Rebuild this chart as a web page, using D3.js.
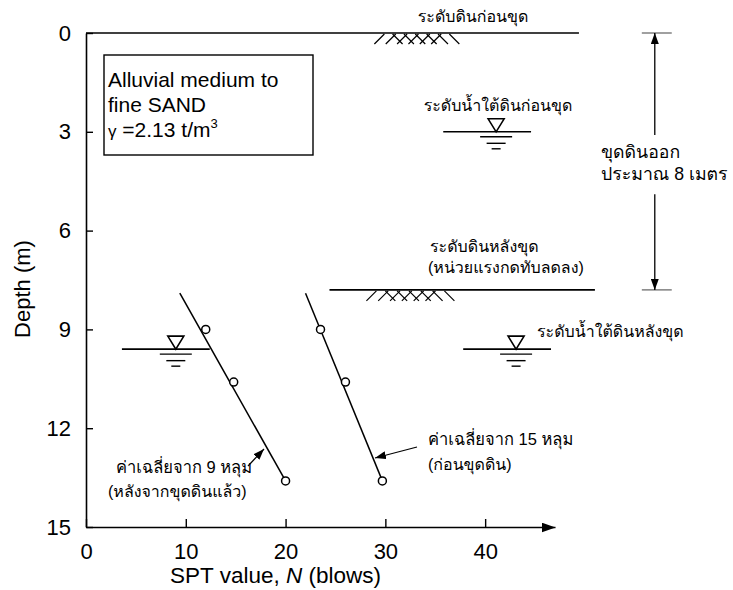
<!DOCTYPE html>
<html>
<head>
<meta charset="utf-8">
<script src="https://cdn.jsdelivr.net/npm/d3@7/dist/d3.min.js"></script>
<style>
  html, body { margin: 0; padding: 0; background: #fff; }
  svg { display: block; }
  text { font-family: "Liberation Sans", Arial, "Loma", "Garuda", "Noto Sans Thai Looped", "Tahoma", "Noto Sans Thai", sans-serif; fill: #000; }
</style>
</head>
<body>
<svg id="chart" width="733" height="590"></svg>
<script>
// SPT N-value against depth, before and after excavation
const xTicks = [0, 10, 20, 30, 40];
const yTicks = [0, 3, 6, 9, 12, 15];

// average of 15 boreholes, before excavation
const beforeDepth = [9.0, 10.6, 13.6];
const beforeN     = [23.5, 26.0, 29.7];
// average of 9 boreholes, after excavation
const afterDepth  = [9.0, 10.6, 13.6];
const afterN      = [12.0, 14.8, 20.0];

// fitted trend lines [N, depth] at start and end
const beforeTrendN = [22.0, 29.7];
const afterTrendN  = [9.4, 20.0];
const trendDepth   = [7.9, 13.6];

// site levels (m)
const groundBefore = 0;
const waterBefore  = 3.0;
const groundAfter  = 7.8;
const waterAfter   = 9.6;

const width = 733, height = 590;
const svg = d3.select("#chart");

const x = d3.scaleLinear().domain([0, 47]).range([86, 555]);
const y = d3.scaleLinear().domain([0, 15]).range([33, 527]);

const defs = svg.append("defs");
defs.append("marker")
  .attr("id", "arrowBig")
  .attr("viewBox", "0 0 10 10")
  .attr("refX", 10).attr("refY", 5)
  .attr("markerWidth", 11).attr("markerHeight", 8)
  .attr("markerUnits", "userSpaceOnUse")
  .attr("orient", "auto")
  .attr("preserveAspectRatio", "none")
  .append("path").attr("d", "M0,0L10,5L0,10Z").attr("fill", "#000");
defs.append("marker")
  .attr("id", "arrowAxis")
  .attr("viewBox", "0 0 14 10")
  .attr("refX", 14).attr("refY", 5)
  .attr("markerWidth", 14).attr("markerHeight", 10)
  .attr("markerUnits", "userSpaceOnUse")
  .attr("orient", "auto")
  .append("path").attr("d", "M0,0L14,5L0,10Z").attr("fill", "#000");

const latin = "Liberation Sans, Arial, sans-serif";

// axes with inward ticks
const xAxis = d3.axisBottom(x).tickValues(xTicks).tickSizeInner(-8).tickSizeOuter(0).tickPadding(16);
const gx = svg.append("g").attr("transform", `translate(0,${y(15)})`).call(xAxis);
gx.select(".domain").attr("stroke-width", 1.6).attr("marker-end", "url(#arrowAxis)");
gx.selectAll(".tick line").attr("stroke-width", 1.4);
gx.selectAll(".tick text").attr("font-size", 22).attr("font-family", latin);

const yAxis = d3.axisLeft(y).tickValues(yTicks).tickSizeInner(-7).tickSizeOuter(0).tickPadding(15);
const gy = svg.append("g").attr("transform", `translate(${x(0)},0)`).call(yAxis);
gy.select(".domain").attr("stroke-width", 1.6);
gy.selectAll(".tick line").attr("stroke-width", 1.4);
gy.selectAll(".tick text").attr("font-size", 22).attr("font-family", latin);

// axis titles
const xt = svg.append("text")
  .attr("x", 275.5).attr("y", 583).attr("text-anchor", "middle").attr("font-size", 22.5);
xt.append("tspan").text("SPT value, ");
xt.append("tspan").attr("font-style", "italic").text("N");
xt.append("tspan").text(" (blows)");

svg.append("text")
  .attr("transform", "translate(30,289) rotate(-90)")
  .attr("text-anchor", "middle").attr("font-size", 22)
  .text("Depth (m)");

// soil description box
svg.append("rect")
  .attr("x", 104).attr("y", 55).attr("width", 209).attr("height", 100)
  .attr("fill", "none").attr("stroke", "#000").attr("stroke-width", 1.4);
const boxLines = ["Alluvial medium to", "fine SAND"];
boxLines.forEach((t, i) => {
  svg.append("text").attr("x", 108).attr("y", 87 + i * 25).attr("font-size", 21).text(t);
});
const g3 = svg.append("text").attr("x", 108).attr("y", 137).attr("font-size", 21);
g3.append("tspan").attr("font-size", 17).text("γ");
g3.append("tspan").text(" =2.13 t/m");
g3.append("tspan").attr("font-size", 13).attr("dy", -9).text("3");

const line = d3.line().x(d => x(d[0])).y(d => y(d[1]));

// ground surface before excavation
svg.append("path")
  .attr("d", line([[0, groundBefore], [49.4, groundBefore]]))
  .attr("stroke", "#000").attr("stroke-width", 1.6).attr("fill", "none");
// ground surface after excavation
svg.append("path")
  .attr("d", line([[24.4, groundAfter], [51.0, groundAfter]]))
  .attr("stroke", "#000").attr("stroke-width", 1.6).attr("fill", "none");

// soil hatching under a ground line
function hatch(n0, n1, depth) {
  const xa = x(n0), xb = x(n1), yt = y(depth) + 1, h = 10;
  const g = svg.append("g").attr("stroke", "#000").attr("stroke-width", 1.2);
  const step = (xb - xa - h) / 6.5;
  for (let k = 0; k < 6; k++) {
    const tf = xa + h + k * step;          // "/" strokes
    g.append("line").attr("x1", tf).attr("y1", yt).attr("x2", tf - h).attr("y2", yt + h);
    const tb = xa + 1.6 * step + k * step; // "\" strokes
    g.append("line").attr("x1", tb).attr("y1", yt).attr("x2", tb + h).attr("y2", yt + h);
  }
}
hatch(28.9, 37.3, groundBefore);
hatch(28.1, 36.8, groundAfter);

// water table symbol
function waterTable(n0, n1, nTri, depth) {
  const yl = y(depth), xc = x(nTri);
  const g = svg.append("g").attr("stroke", "#000").attr("fill", "none");
  g.append("line").attr("x1", x(n0)).attr("x2", x(n1)).attr("y1", yl).attr("y2", yl).attr("stroke-width", 1.6);
  g.append("path").attr("d", `M${xc - 8},${yl - 13}L${xc + 8},${yl - 13}L${xc},${yl}Z`)
    .attr("stroke-width", 1.6).attr("fill", "#fff");
  [[5, 16], [11.5, 9.5], [17, 4.5]].forEach(([dy, hw]) => {
    g.append("line").attr("x1", xc - hw).attr("x2", xc + hw)
      .attr("y1", yl + dy).attr("y2", yl + dy).attr("stroke-width", 1.4);
  });
}
waterTable(35.8, 44.6, 41.1, waterBefore);
waterTable(3.6, 12.4, 9.0, waterAfter);
waterTable(37.8, 46.6, 43.1, waterAfter);

// excavation depth dimension
const dimN = 57.0;
const dim = svg.append("g");
[groundBefore, groundAfter].forEach(d => {
  dim.append("line").attr("x1", x(dimN - 1.3)).attr("x2", x(dimN + 1.7))
    .attr("y1", y(d)).attr("y2", y(d)).attr("stroke", "#777").attr("stroke-width", 1.4);
});
dim.append("line").attr("x1", x(dimN)).attr("x2", x(dimN))
  .attr("y1", y(3.1)).attr("y2", y(groundBefore))
  .attr("stroke", "#000").attr("stroke-width", 1.3).attr("marker-end", "url(#arrowBig)");
dim.append("line").attr("x1", x(dimN)).attr("x2", x(dimN))
  .attr("y1", y(4.9)).attr("y2", y(groundAfter))
  .attr("stroke", "#000").attr("stroke-width", 1.3).attr("marker-end", "url(#arrowBig)");

// trend lines
const trends = [
  [[afterTrendN[0], trendDepth[0]], [afterTrendN[1], trendDepth[1]]],
  [[beforeTrendN[0], trendDepth[0]], [beforeTrendN[1], trendDepth[1]]]
];
svg.selectAll(".trend").data(trends).join("path")
  .attr("class", "trend")
  .attr("d", d => line(d))
  .attr("stroke", "#000").attr("stroke-width", 1.5).attr("fill", "none");

// data points
const pts = afterN.map((n, i) => [n, afterDepth[i]])
  .concat(beforeN.map((n, i) => [n, beforeDepth[i]]));
svg.selectAll(".pt").data(pts).join("circle")
  .attr("class", "pt")
  .attr("cx", d => x(d[0])).attr("cy", d => y(d[1])).attr("r", 4)
  .attr("fill", "#fff").attr("stroke", "#000").attr("stroke-width", 1.5);

// labels
function label(t, px, py, anchor, size) {
  svg.append("text").attr("x", px).attr("y", py).attr("font-size", size || 16)
    .attr("text-anchor", anchor || "start").text(t);
}
label("ระดับดินก่อนขุด", 473, 22, "middle");
label("ระดับน้ำใต้ดินก่อนขุด", 498, 111, "middle");
label("ระดับดินหลังขุด", 430, 252);
label("(หน่วยแรงกดทับลดลง)", 428, 273);
label("ระดับน้ำใต้ดินหลังขุด", 537, 337);
label("ขุดดินออก", 601, 158, "start", 17.7);
label("ประมาณ 8 เมตร", 601, 180, "start", 17.7);
label("ค่าเฉลี่ยจาก 9 หลุม", 116, 473, "start", 16.5);
label("(หลังจากขุดดินแล้ว)", 108, 497);
label("ค่าเฉลี่ยจาก 15 หลุม", 428, 445, "start", 16.5);
label("(ก่อนขุดดิน)", 428, 470);

// leader arrows to the trend lines
svg.append("line").attr("x1", 248).attr("y1", 466).attr("x2", 264).attr("y2", 449)
  .attr("stroke", "#000").attr("stroke-width", 1.2).attr("marker-end", "url(#arrowBig)");
svg.append("line").attr("x1", 417).attr("y1", 447).attr("x2", 375).attr("y2", 458)
  .attr("stroke", "#000").attr("stroke-width", 1.2).attr("marker-end", "url(#arrowBig)");
</script>
</body>
</html>
